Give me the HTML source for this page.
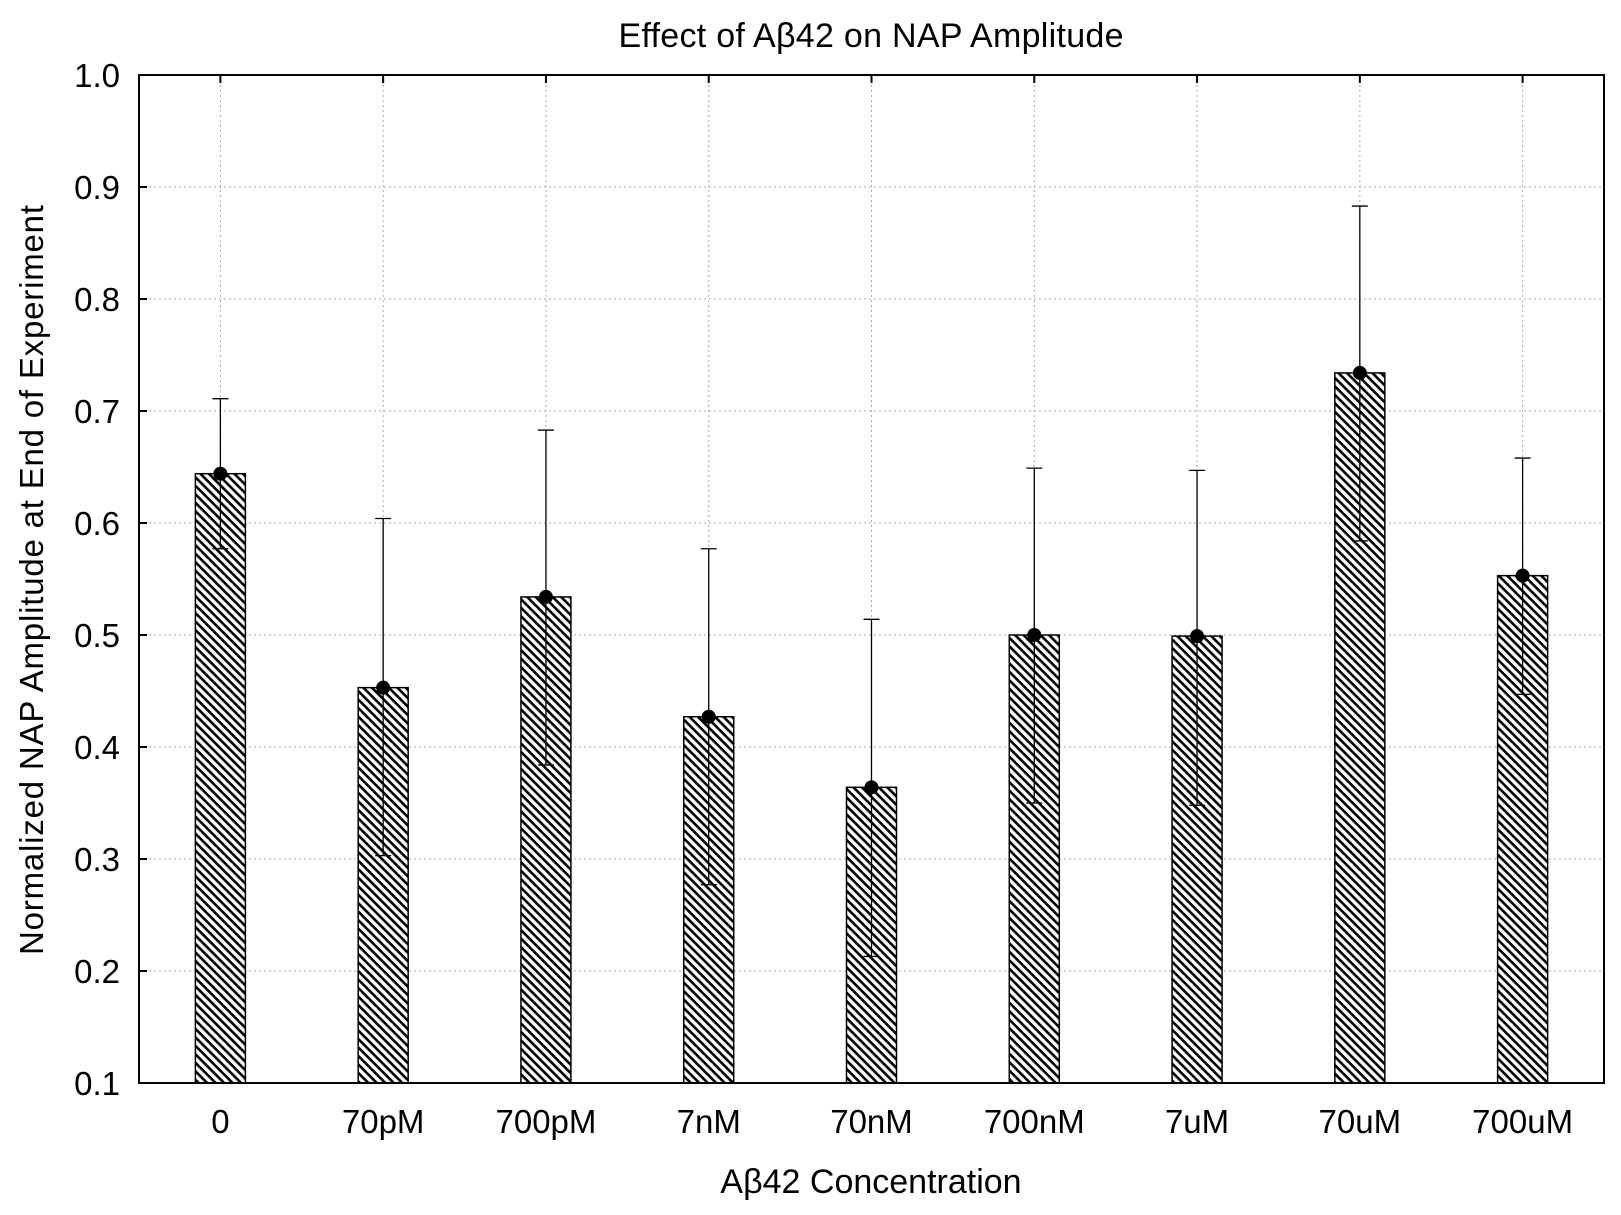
<!DOCTYPE html>
<html><head><meta charset="utf-8"><style>
body{margin:0;background:#fff;}
svg text{font-family:"Liberation Sans",sans-serif;fill:#000;}
</style></head><body>
<svg id="chart" width="1621" height="1210" xmlns="http://www.w3.org/2000/svg">
<defs>
<pattern id="hatch" patternUnits="userSpaceOnUse" width="6" height="6" patternTransform="rotate(45)">
<rect width="6" height="6" fill="#fff"/>
<rect x="0" y="0" width="6" height="2.6" fill="#000"/>
</pattern>
</defs>
<text x="871" y="47" font-size="34" text-anchor="middle" textLength="505">Effect of Aβ42 on NAP Amplitude</text>
<text x="871" y="1193" font-size="34" text-anchor="middle">Aβ42 Concentration</text>
<text transform="translate(43,580) rotate(-90)" font-size="33" text-anchor="middle" textLength="750">Normalized NAP Amplitude at End of Experiment</text>
<g id="grid"></g><g id="bars"></g><g id="axes"></g>
</svg>
<script>
const categories=["0","70pM","700pM","7nM","70nM","700nM","7uM","70uM","700uM"];
const means=[0.644,0.453,0.534,0.427,0.364,0.500,0.499,0.734,0.553];
const upper=[0.711,0.604,0.683,0.577,0.514,0.649,0.647,0.883,0.658];
const lower=[0.577,0.303,0.384,0.277,0.213,0.350,0.348,0.584,0.447];
const yTicks=["0.1","0.2","0.3","0.4","0.5","0.6","0.7","0.8","0.9","1.0"];
const L=139,R=1604,T=75,B=1083,yMin=0.1,yMax=1.0;
const NS="http://www.w3.org/2000/svg";
const y=v=>B-(v-yMin)/(yMax-yMin)*(B-T);
const bw=(R-L)/categories.length;
const x=i=>L+bw*(i+0.5);
function mk(tag,attrs,parent){const e=document.createElementNS(NS,tag);for(const k in attrs)e.setAttribute(k,attrs[k]);parent.appendChild(e);return e;}
const grid=document.getElementById('grid'),bars=document.getElementById('bars'),axes=document.getElementById('axes');
yTicks.forEach(t=>{const v=parseFloat(t),yy=y(v);
 const g=mk('line',{x1:L,x2:R,y1:yy,y2:yy,stroke:'#aaa','stroke-width':1,'stroke-dasharray':'2,3'},grid);
 
 
 const tk=mk('line',{x1:L,x2:L+8,y1:yy,y2:yy,stroke:'#000','stroke-width':2},axes);
 
 
 const tx=mk('text',{x:120,y:yy+12,'font-size':33,'text-anchor':'end'},axes);tx.textContent=t;
 
 
});
categories.forEach((c,i)=>{const cx=x(i);
 const g=mk('line',{x1:cx,x2:cx,y1:T,y2:B,stroke:'#aaa','stroke-width':1,'stroke-dasharray':'2,3'},grid);
 
 
 const tk=mk('line',{x1:cx,x2:cx,y1:T,y2:T+8,stroke:'#000','stroke-width':2},axes);
 
 
 const tx=mk('text',{x:cx,y:1133,'font-size':33,'text-anchor':'middle'},axes);tx.textContent=c;
 
 
 const b=mk('rect',{x:cx-25,y:y(means[i]),width:50,height:B-y(means[i]),fill:'url(#hatch)',stroke:'#000','stroke-width':1.5},bars);
 
 
 const e=mk('path',{d:`M${cx} ${y(upper[i])}V${y(lower[i])}M${cx-8} ${y(upper[i])}H${cx+8}M${cx-8} ${y(lower[i])}H${cx+8}`,stroke:'#000','stroke-width':1.3,fill:'none'},bars);
 
 
 const d=mk('circle',{cx:cx,cy:y(means[i]),r:7,fill:'#000'},bars);
 
 
});
const fr=mk('rect',{x:L,y:T,width:R-L,height:B-T,fill:'none',stroke:'#000','stroke-width':2},axes);


</script>
</body></html>
